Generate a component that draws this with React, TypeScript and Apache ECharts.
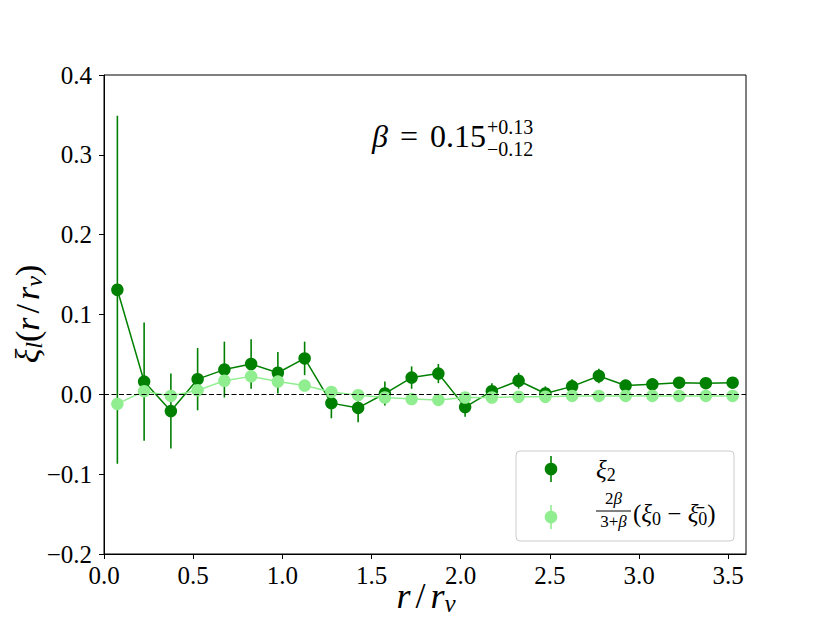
import React, { useEffect, useRef } from "react";
import * as echarts from "echarts";

const xValues = [0.075, 0.225, 0.375, 0.525, 0.675, 0.825, 0.975, 1.125, 1.275, 1.425, 1.575, 1.725, 1.875, 2.025, 2.175, 2.325, 2.475, 2.625, 2.775, 2.925, 3.075, 3.225, 3.375, 3.525];
const xi2Values = [0.131, 0.016, -0.021, 0.019, 0.031, 0.038, 0.027, 0.045, -0.011, -0.017, 0.001, 0.021, 0.026, -0.016, 0.004, 0.017, 0.001, 0.010, 0.023, 0.011, 0.0125, 0.0146, 0.014, 0.0146];
const xi2Errors = [0.218, 0.074, 0.047, 0.039, 0.035, 0.031, 0.026, 0.021, 0.019, 0.018, 0.015, 0.014, 0.012, 0.012, 0.010, 0.010, 0.009, 0.009, 0.009, 0.007, 0.006, 0.005, 0.005, 0.005];
const modelValues = [-0.012, 0.004, -0.002, 0.005, 0.017, 0.0225, 0.016, 0.011, 0.003, -0.001, -0.004, -0.006, -0.007, -0.004, -0.004, -0.003, -0.003, -0.002, -0.002, -0.002, -0.002, -0.002, -0.002, -0.002];
const modelErrors = [0.006, 0.005, 0.004, 0.004, 0.004, 0.004, 0.003, 0.003, 0.003, 0.003, 0.003, 0.003, 0.002, 0.002, 0.002, 0.002, 0.002, 0.002, 0.002, 0.002, 0.002, 0.002, 0.002, 0.002];
const xTicks = [0, 0.5, 1.0, 1.5, 2.0, 2.5, 3.0, 3.5];
const legendLabels = ["ξ2", "2β/(3+β)(ξ0 − ξ̄0)"];

const DARK = "#008000";
const LIGHT = "#90EE90";
const FONT = "Liberation Serif";

function fmt(v: number) {
  const s = Math.abs(v).toFixed(1);
  return v < -1e-9 ? "\u2212" + s : s;
}

function errSeries(name: string, vals: number[], errs: number[], color: string, extra: any = {}) {
  return {
    type: "custom",
    name,
    data: xValues.map((x, i) => [x, vals[i], errs[i]]),
    encode: { x: 0, y: 1 },
    renderItem: (params: any, api: any) => {
      const x = api.value(0);
      const y = api.value(1);
      const e = api.value(2);
      const p1 = api.coord([x, y - e]);
      const p2 = api.coord([x, y + e]);
      return {
        type: "line",
        shape: { x1: p1[0], y1: p1[1], x2: p2[0], y2: p2[1] },
        style: { stroke: color, lineWidth: 1.6 },
      };
    },
    silent: true,
    ...extra,
  };
}

function lineSeries(name: string, vals: number[], color: string) {
  return {
    type: "line",
    name,
    data: xValues.map((x, i) => [x, vals[i]]),
    symbol: "circle",
    symbolSize: 12.5,
    showAllSymbol: true,
    itemStyle: { color, opacity: 1 },
    lineStyle: { color, width: 1.5 },
    silent: true,
  };
}

export default function App() {
  const ref = useRef<HTMLDivElement>(null);
  useEffect(() => {
    if (!ref.current) return;
    const chart = echarts.init(ref.current, null, { renderer: "svg" });
    const subRich = (size: number, sub: number, slashPad: number) => ({
      i: { fontFamily: FONT, fontStyle: "italic", fontSize: size, lineHeight: size + 4, fill: "#000" },
      n: { fontFamily: FONT, fontSize: size, lineHeight: size + 4, fill: "#000" },
      sl: { fontFamily: FONT, fontSize: size, lineHeight: size + 4, fill: "#000", padding: [0, slashPad, 0, slashPad] },
      s: { fontFamily: FONT, fontStyle: "italic", fontSize: sub, lineHeight: sub - 6, verticalAlign: "bottom", fill: "#000" },
      u: { fontFamily: FONT, fontSize: sub, lineHeight: sub - 6, verticalAlign: "bottom", fill: "#000" },
    });
    const smallRich = {
      n: { fontFamily: FONT, fontSize: 17, lineHeight: 15, fill: "#000" },
      i: { fontFamily: FONT, fontStyle: "italic", fontSize: 17, lineHeight: 15, fill: "#000" },
    };
    const option: any = {
      animation: false,
      backgroundColor: "#ffffff",
      textStyle: { fontFamily: FONT },
      grid: { left: 104, right: 84, top: 75, bottom: 69, show: true, borderColor: "#000", borderWidth: 1, backgroundColor: "transparent" },
      xAxis: {
        type: "value",
        min: 0,
        max: 3.6,
        interval: 0.5,
        axisLine: { show: true, onZero: false, lineStyle: { color: "#000", width: 1 } },
        axisTick: { show: true, inside: false, length: 5, lineStyle: { color: "#000", width: 1 }, customValues: xTicks },
        axisLabel: { fontFamily: FONT, fontSize: 25, color: "#000", margin: 9, formatter: (v: number) => fmt(v), customValues: xTicks },
        splitLine: { show: false },
      },
      yAxis: {
        type: "value",
        min: -0.2,
        max: 0.4,
        interval: 0.1,
        axisLine: { show: true, onZero: false, lineStyle: { color: "#000", width: 1 } },
        axisTick: { show: true, inside: false, length: 5, lineStyle: { color: "#000", width: 1 } },
        axisLabel: { fontFamily: FONT, fontSize: 25, color: "#000", margin: 12, formatter: (v: number) => fmt(v) },
        splitLine: { show: false },
      },
      series: [
        errSeries(legendLabels[0] + " err", xi2Values, xi2Errors, DARK, {
          markLine: {
            silent: true,
            symbol: ["none", "none"],
            label: { show: false },
            lineStyle: { color: "#000", type: [5, 2.5], width: 1.2 },
            data: [{ yAxis: 0 }],
          },
        }),
        lineSeries(legendLabels[0], xi2Values, DARK),
        errSeries(legendLabels[1] + " err", modelValues, modelErrors, LIGHT),
        lineSeries(legendLabels[1], modelValues, LIGHT),
      ],
      graphic: [
        {
          type: "text",
          x: 27,
          y: 314,
          rotation: Math.PI / 2,
          style: {
            text: "{i|ξ}{s|l}{n|(}{i|r}{sl|/}{i|r}{s|v}{n|)}",
            rich: subRich(34, 24, 4),
            align: "center",
            verticalAlign: "middle",
          },
        },
        {
          type: "text",
          x: 426,
          y: 596,
          style: {
            text: "{i|r}{sl|/}{i|r}{s|v}",
            rich: subRich(36, 25, 5),
            align: "center",
            verticalAlign: "middle",
          },
        },
        {
          type: "text",
          x: 486,
          y: 136,
          style: {
            text: "{i|β}{e|=}{n|0.15}",
            rich: {
              i: { fontFamily: FONT, fontStyle: "italic", fontSize: 32, lineHeight: 34, fill: "#000" },
              e: { fontFamily: FONT, fontSize: 32, lineHeight: 34, fill: "#000", padding: [0, 12, 0, 12] },
              n: { fontFamily: FONT, fontSize: 32, lineHeight: 34, fill: "#000" },
            },
            align: "right",
            verticalAlign: "middle",
          },
        },
        { type: "text", x: 487, y: 126.5, style: { text: "+0.13", fontFamily: FONT, fontSize: 20, lineHeight: 20, fill: "#000", align: "left", verticalAlign: "middle" } },
        { type: "text", x: 487, y: 149, style: { text: "\u22120.12", fontFamily: FONT, fontSize: 20, lineHeight: 20, fill: "#000", align: "left", verticalAlign: "middle" } },
        // legend
        {
          type: "rect",
          shape: { x: 516, y: 451, width: 218, height: 90, r: 4 },
          style: { fill: "rgba(255,255,255,0.8)", stroke: "#cccccc", lineWidth: 1 },
          z: 10,
        },
        { type: "line", shape: { x1: 551, y1: 456, x2: 551, y2: 482 }, style: { stroke: DARK, lineWidth: 1.6 }, z: 11 },
        { type: "circle", shape: { cx: 551, cy: 469, r: 6.3 }, style: { fill: DARK }, z: 11 },
        { type: "line", shape: { x1: 551, y1: 505, x2: 551, y2: 529 }, style: { stroke: LIGHT, lineWidth: 1.6 }, z: 11 },
        { type: "circle", shape: { cx: 551, cy: 517, r: 6.3 }, style: { fill: LIGHT }, z: 11 },
        {
          type: "text",
          x: 596,
          y: 469,
          z: 11,
          style: { text: "{i|ξ}{u|2}", rich: subRich(25, 18, 0), align: "left", verticalAlign: "middle" },
        },
        {
          type: "text",
          x: 613.5,
          y: 498,
          z: 11,
          style: { text: "{n|2}{i|β}", rich: smallRich, align: "center", verticalAlign: "middle" },
        },
        { type: "line", shape: { x1: 596, y1: 511, x2: 631, y2: 511 }, style: { stroke: "#000", lineWidth: 1 }, z: 11 },
        {
          type: "text",
          x: 613.5,
          y: 521,
          z: 11,
          style: { text: "{n|3+}{i|β}", rich: smallRich, align: "center", verticalAlign: "middle" },
        },
        {
          type: "text",
          x: 633,
          y: 513.5,
          z: 11,
          style: {
            text: "{n|(}{i|ξ}{u|0}{n| \u2212 }{i|ξ\u0304}{u|0}{n|)}",
            rich: subRich(25, 18, 0),
            align: "left",
            verticalAlign: "middle",
          },
        },
      ],
    };
    chart.setOption(option);
    return () => chart.dispose();
  }, []);
  return <div ref={ref} style={{ position: "fixed", left: 0, top: 0, width: 830, height: 623 }} />;
}
